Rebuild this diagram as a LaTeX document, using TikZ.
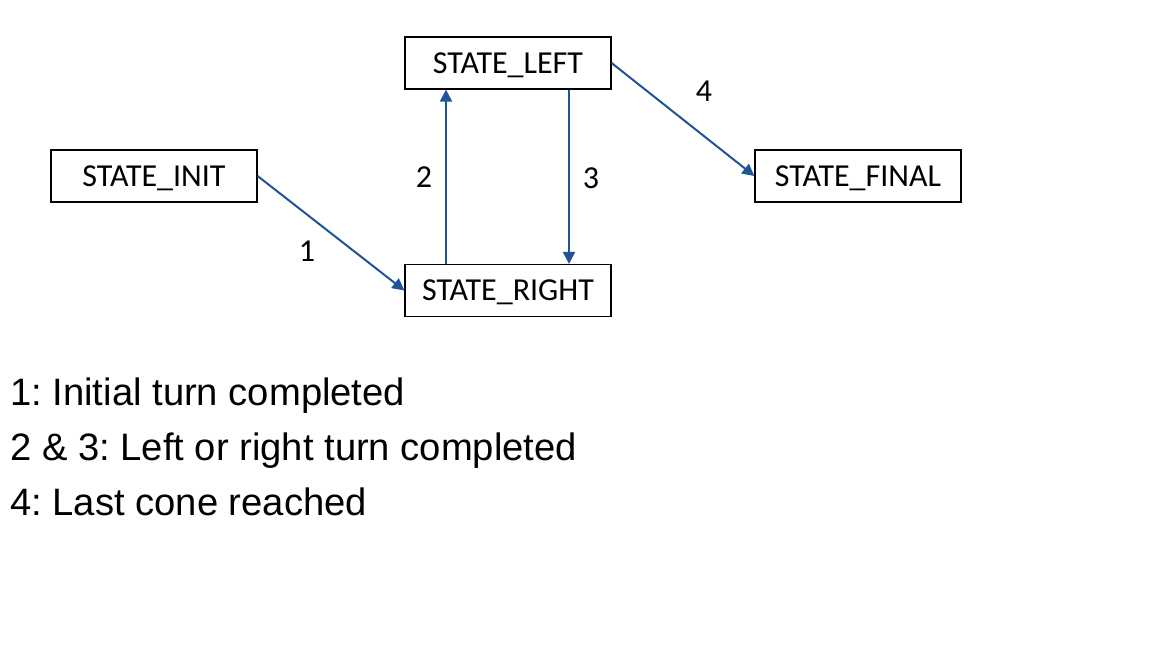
\documentclass[tikz,border=0pt]{standalone}
\usepackage{fontspec}
\setmainfont{Carlito}
\newfontfamily\legendfont{Liberation Sans}
\usetikzlibrary{arrows.meta}
\definecolor{arrowblue}{RGB}{31,84,150}
\frenchspacing
\tikzset{
  statebox/.style={draw=black, line width=1.2pt, fill=white, minimum width=206pt, minimum height=52pt, inner sep=0pt, text height=20pt, text depth=0pt, font=\fontsize{32}{38}\selectfont},
  trans/.style={draw=arrowblue, line width=2pt, -{Triangle[length=12pt,width=12pt]}},
  lbl/.style={inner sep=0pt, text height=20pt, text depth=0pt, font=\fontsize{32}{38}\selectfont},
  legend/.style={inner sep=0pt, anchor=base west, font=\legendfont\fontsize{38.2}{45}\selectfont}
}
\begin{document}
\begin{tikzpicture}[x=1pt,y=-1pt]
\useasboundingbox[fill=white] (0,0) rectangle (1152,648);
\node[statebox] (left) at (508,63) {STATE\_LEFT};
\node[statebox] (right) at (508,290.5) {STATE\_RIGHT};
\node[statebox] (init) at (154,176) {STATE\_INIT};
\node[statebox] (final) at (858,176) {STATE\_FINAL};
\draw[trans] (init.east) -- (right.west);
\draw[trans] ([xshift=-62pt]right.north) -- ([xshift=-62pt]left.south);
\draw[trans] ([xshift=61pt]left.south) -- ([xshift=61pt]right.north);
\draw[trans] (left.east) -- (final.west);
\node[lbl] (l1) at (307,251) {1};
\node[lbl] (l2) at (424,177) {2};
\node[lbl] (l3) at (591,178) {3};
\node[lbl] (l4) at (704,91) {4};
\node[legend] (t1) at (10,405) {1: Initial turn completed};
\node[legend] (t2) at (10,460) {2 \& 3: Left or right turn completed};
\node[legend] (t3) at (10,515) {4: Last cone reached};
\end{tikzpicture}
\end{document}
